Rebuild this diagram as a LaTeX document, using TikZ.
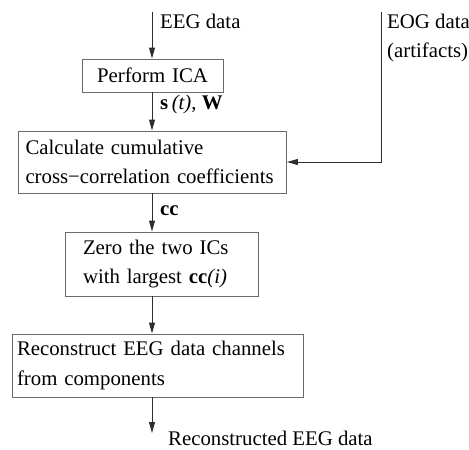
\documentclass[tikz,border=0pt]{standalone}
\usepackage{fontspec}
\setmainfont{Liberation Serif}
\usetikzlibrary{arrows.meta}
\definecolor{boxgray}{HTML}{6A6A6A}
\definecolor{linegray}{HTML}{2E2E2E}
\tikzset{
  txt/.style={font=\fontsize{20.8}{29.5}\selectfont, inner sep=0pt},
  stepbox/.style={draw=boxgray, line width=0.9pt, inner ysep=0pt, align=left,
    font=\fontsize{20.8}{29.5}\selectfont},
  flow/.style={draw=linegray, line width=0.9pt, -{Triangle[length=11pt,width=6pt]}},
  plain/.style={draw=linegray, line width=0.9pt}
}
\begin{document}
\begin{tikzpicture}[x=1pt,y=-1pt]
\useasboundingbox (0,0) rectangle (469,450);
% boxes
\node[stepbox, align=center, text width=141pt, inner xsep=0pt, minimum height=33pt] (ica) at (152.5,75.5) {Perform ICA};
\node[stepbox, text width=254pt, inner xsep=7pt, minimum height=62pt] (calc) at (152.5,162) {Calculate cumulative\\cross−correlation coefficients};
\node[stepbox, text width=157pt, inner xsep=18pt, minimum height=64pt] (zero) at (161.5,264) {Zero the two ICs\\with largest \textbf{cc}\textit{(i)}};
\node[stepbox, text width=281pt, inner xsep=5pt, minimum height=63pt] (recon) at (157.5,365.5) {Reconstruct EEG data channels\\from components};
% labels
\node[txt, anchor=base west] (eeg) at (160,28) {EEG data};
\node[txt, anchor=base west] (eog1) at (387,28) {EOG data};
\node[txt, anchor=base west] (eog2) at (387,57) {(artifacts)};
\node[txt, anchor=base west] (sw) at (160,109) {\textbf{s}\,\textit{(t)}, \textbf{W}};
\node[txt, anchor=base west] (cc) at (160,215) {\textbf{cc}};
\node[txt, anchor=base west] (out) at (168,445) {Reconstructed EEG data};
% coordinates
\coordinate (eegtop) at (152,12);
\coordinate (eogtop) at (381,12);
\coordinate (outend) at (152,433);
% connectors
\draw[flow] (eegtop) -- (ica.north -| eegtop);
\draw[flow] (ica.south -| eegtop) -- (calc.north -| eegtop);
\draw[flow] (eogtop) |- (calc.east);
\draw[flow] (calc.south -| eegtop) -- (zero.north -| eegtop);
\draw[flow] (zero.south -| eegtop) -- (recon.north -| eegtop);
\draw[flow] (recon.south -| eegtop) -- (outend);
\end{tikzpicture}
\end{document}
